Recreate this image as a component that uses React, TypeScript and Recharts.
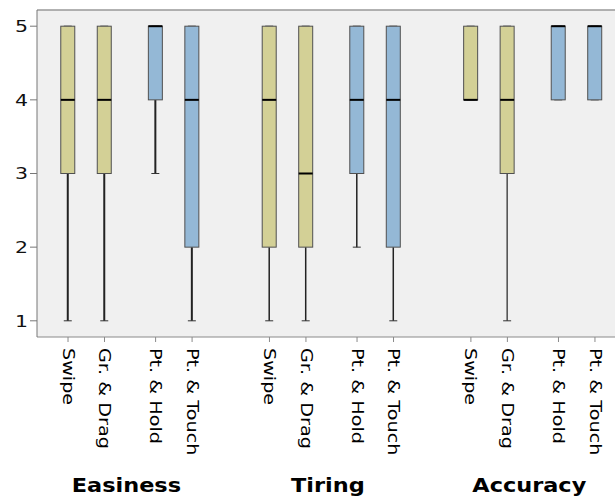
import { Bar, CartesianGrid, ComposedChart, ReferenceLine, XAxis, YAxis } from 'recharts';

type Summary = [number, number, number, number, number];

type Row = {
  pos: number;
  label: string;
  group: number;
  color: string;
  min: number;
  q1: number;
  median: number;
  q3: number;
  max: number;
  range: [number, number];
};

const methods = ['Swipe', 'Gr. & Drag', 'Pt. & Hold', 'Pt. & Touch'];
const groups = ['Easiness', 'Tiring', 'Accuracy'];

// five-number summaries per method: [min, q1, median, q3, max]
const easiness: Summary[] = [
  [1, 3, 4, 5, 5],
  [1, 3, 4, 5, 5],
  [3, 4, 5, 5, 5],
  [1, 2, 4, 5, 5],
];
const tiring: Summary[] = [
  [1, 2, 4, 5, 5],
  [1, 2, 3, 5, 5],
  [2, 3, 4, 5, 5],
  [1, 2, 4, 5, 5],
];
const accuracy: Summary[] = [
  [4, 4, 4, 5, 5],
  [1, 3, 4, 5, 5],
  [4, 4, 5, 5, 5],
  [4, 4, 5, 5, 5],
];

const yTicks = [1, 2, 3, 4, 5];

const methodColors = ['#d3d096', '#d3d096', '#94b8d6', '#94b8d6'];
const SUB_OFFSET = [0, 1, 2.4, 3.4];
const GROUP_STEP = 5.52;
const X_DOMAIN: [number, number] = [-0.85, 15.4];
const Y_DOMAIN: [number, number] = [0.78, 5.22];
const whiskerWidth = [2, 1.5, 1.2];

const rows: Row[] = [easiness, tiring, accuracy].flatMap((g, gi) =>
  g.map((s, mi) => ({
    pos: gi * GROUP_STEP + SUB_OFFSET[mi],
    label: methods[mi],
    group: gi,
    color: methodColors[mi],
    min: s[0],
    q1: s[1],
    median: s[2],
    q3: s[3],
    max: s[4],
    range: [s[0], s[4]] as [number, number],
  })),
);

const groupTicks = groups.map((_, gi) => gi * GROUP_STEP + 1.6);

const BoxShape = (props: any) => {
  const { x, y, width, height, payload } = props;
  const { min, q1, median, q3, max, color, group } = payload as Row;
  const top = Math.min(y, y + height);
  const h = Math.abs(height);
  const px = (v: number) => top + (h * (max - v)) / (max - min);
  const cx = x + width / 2;
  const sw = whiskerWidth[group];
  return (
    <g>
      {min < q1 && (
        <line x1={cx} x2={cx} y1={px(q1)} y2={px(min)} stroke="#222" strokeWidth={sw} />
      )}
      {max > q3 && (
        <line x1={cx} x2={cx} y1={px(max)} y2={px(q3)} stroke="#222" strokeWidth={sw} />
      )}
      <line x1={cx - 4} x2={cx + 4} y1={px(min)} y2={px(min)} stroke="#333" strokeWidth={1} />
      <line x1={cx - 4} x2={cx + 4} y1={px(max)} y2={px(max)} stroke="#333" strokeWidth={1} />
      <rect
        x={x}
        y={px(q3)}
        width={width}
        height={px(q1) - px(q3)}
        fill={color}
        stroke="#505050"
        strokeWidth={1}
      />
      <line x1={x} x2={x + width} y1={px(median)} y2={px(median)} stroke="#000" strokeWidth={2} />
    </g>
  );
};

const YTick = ({ x, y, payload }: any) => (
  <g transform={`translate(${x},${y}) scale(1.24,1)`}>
    <text textAnchor="end" dominantBaseline="central" fontSize={16.5} fill="#111" fontFamily="DejaVu Sans">
      {payload.value}
    </text>
  </g>
);

const XTick = ({ x, y, payload }: any) => {
  const row = rows.find((r) => Math.abs(r.pos - payload.value) < 1e-6);
  return (
    <g transform={`translate(${x},${y}) rotate(90) scale(1.2,1)`}>
      <text textAnchor="start" dominantBaseline="central" fontSize={16} fill="#000" fontFamily="DejaVu Sans">
        {row ? row.label : ''}
      </text>
    </g>
  );
};

const GroupTick = ({ x, y, index }: any) => (
  <g transform={`translate(${x},${y + 30}) scale(1.18,1)`}>
    <text textAnchor="middle" fontSize={19} fontWeight="bold" fill="#000" fontFamily="DejaVu Sans">
      {groups[index]}
    </text>
  </g>
);

export default function App() {
  return (
    <div
      style={{
        position: 'absolute',
        left: 0,
        top: 0,
        width: 615,
        height: 503,
        overflow: 'hidden',
        background: '#fff',
      }}
    >
      <ComposedChart
        width={640}
        height={503}
        data={rows}
        margin={{ top: 10, right: 10, bottom: 0, left: 0 }}
      >
        <CartesianGrid fill="#f0f0f0" horizontal={false} vertical={false} />
        <XAxis
          dataKey="pos"
          type="number"
          domain={X_DOMAIN}
          allowDataOverflow
          ticks={rows.map((r) => r.pos)}
          interval={0}
          height={125}
          tickSize={5}
          tickMargin={6}
          stroke="#8a8a8a"
          tick={<XTick />}
        />
        <XAxis
          xAxisId="group"
          dataKey="pos"
          type="number"
          domain={X_DOMAIN}
          allowDataOverflow
          ticks={groupTicks}
          interval={0}
          height={41}
          tickSize={0}
          tickMargin={0}
          axisLine={false}
          tickLine={false}
          tick={<GroupTick />}
        />
        <YAxis
          type="number"
          domain={Y_DOMAIN}
          allowDataOverflow
          ticks={yTicks}
          interval={0}
          width={37}
          tickSize={7}
          tickMargin={2}
          stroke="#777"
          tick={<YTick />}
        />
        <ReferenceLine y={Y_DOMAIN[1]} stroke="#999" strokeWidth={1.5} />
        <Bar dataKey="range" barSize={14} shape={<BoxShape />} isAnimationActive={false} />
      </ComposedChart>
    </div>
  );
}
